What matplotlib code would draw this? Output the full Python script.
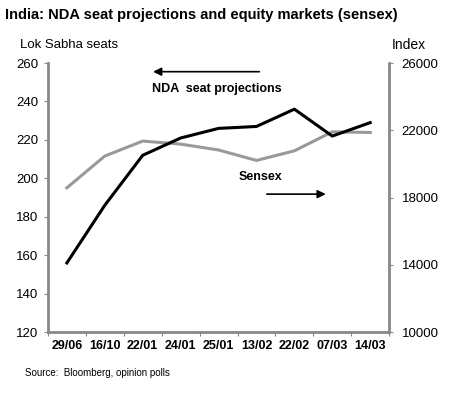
import matplotlib.pyplot as plt

plt.rcParams['font.family'] = ['Liberation Sans', 'DejaVu Sans']

dates = ['29/06', '16/10', '22/01', '24/01', '25/01', '13/02', '22/02', '07/03', '14/03']
nda_seats = [156, 186, 212, 221, 226, 227, 236, 222, 229]
sensex = [18580, 20470, 21360, 21180, 20830, 20210, 20780, 21910, 21870]

fig = plt.figure(figsize=(4.52, 3.94), dpi=100)
ax = fig.add_axes([0.106, 0.157, 0.755, 0.683])
ax2 = ax.twinx()

x = list(range(len(dates)))
ax.plot(x, nda_seats, color='black', lw=2.2, zorder=3)
ax2.plot(x, sensex, color='#999999', lw=2.2)
ax.set_zorder(ax2.get_zorder() + 1)
ax.patch.set_visible(False)

ax.set_xlim(-0.5, len(dates) - 0.5)
ax.set_ylim(120, 260)
ax.set_yticks(range(120, 261, 20))
ax2.set_ylim(10000, 26000)
ax2.set_yticks(range(10000, 26001, 4000))

# category boundaries get the tick marks, labels sit between them
ax.set_xticks([i - 0.5 for i in range(len(dates) + 1)])
ax.set_xticklabels([])
ax.set_xticks(x, minor=True)
ax.set_xticklabels(dates, minor=True, fontsize=9, fontweight='bold')
ax.tick_params(axis='x', which='minor', length=0, pad=6)
ax.tick_params(axis='x', which='major', length=3, color='#888888', direction='out')

for a in (ax, ax2):
    for s in a.spines.values():
        s.set_visible(False)
ax.spines['left'].set_visible(True)
ax.spines['bottom'].set_visible(True)
ax2.spines['right'].set_visible(True)
for s in (ax.spines['left'], ax.spines['bottom'], ax2.spines['right']):
    s.set_color('#888888')
    s.set_linewidth(2)

ax.tick_params(axis='y', length=3, color='#888888', labelsize=9.5, pad=4)
ax2.tick_params(axis='y', length=3, color='#888888', labelsize=9.5, pad=6)

fig.text(0.012, 0.962, 'India: NDA seat projections and equity markets (sensex)',
         fontsize=10.5, fontweight='bold', va='center')
fig.text(0.045, 0.885, 'Lok Sabha seats', fontsize=9.5, va='center')
fig.text(0.905, 0.885, 'Index', fontsize=10, va='center', ha='center')
fig.text(0.055, 0.053, 'Source:  Bloomberg, opinion polls', fontsize=7, va='center')

ax.text(3.95, 246.5, 'NDA  seat projections', fontsize=9, fontweight='bold', ha='center', va='center')
ax.annotate('', xy=(2.2, 255.5), xytext=(5.15, 255.5),
            arrowprops=dict(arrowstyle='-|>', color='black', lw=1.2, mutation_scale=12))
ax.text(5.1, 200.6, 'Sensex', fontsize=9, fontweight='bold', ha='center', va='center')
ax.annotate('', xy=(6.9, 191.8), xytext=(5.2, 191.8),
            arrowprops=dict(arrowstyle='-|>', color='black', lw=1.2, mutation_scale=12))

fig.savefig('out.png', dpi=100)
